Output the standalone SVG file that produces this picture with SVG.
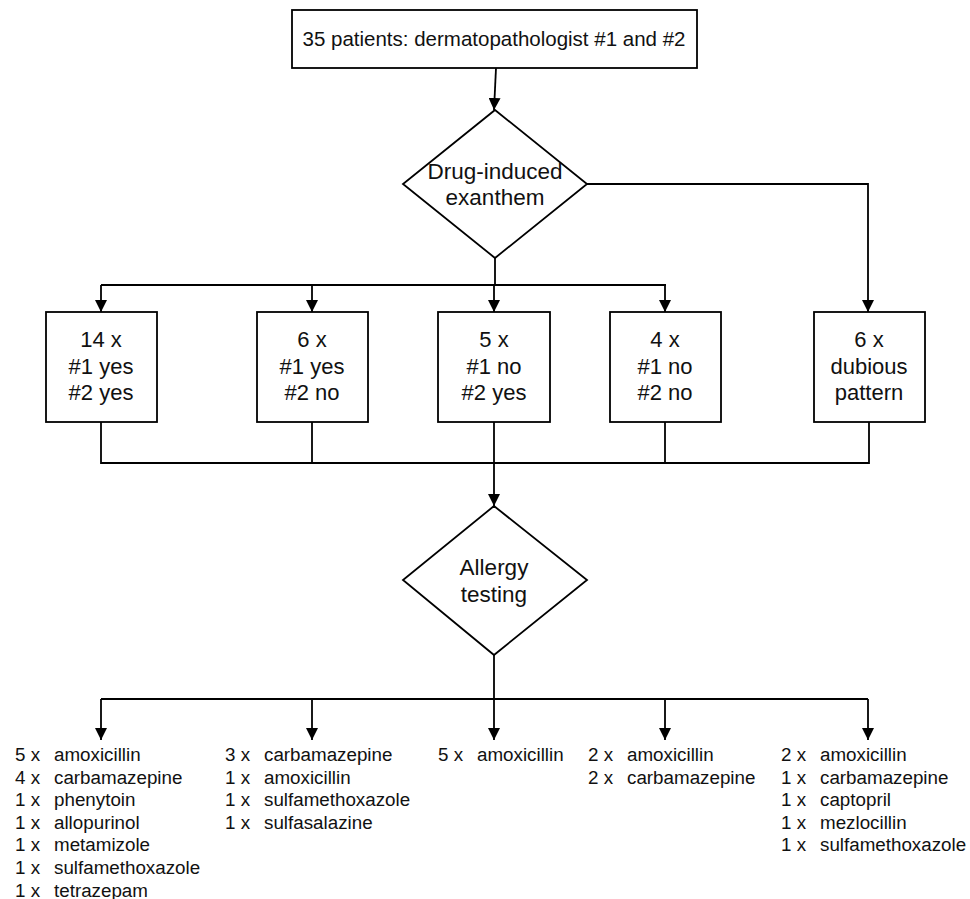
<svg xmlns="http://www.w3.org/2000/svg" width="970" height="899" viewBox="0 0 970 899">
<defs>
<marker id="ah" markerWidth="12" markerHeight="12" refX="12" refY="6" orient="auto" markerUnits="userSpaceOnUse">
<path d="M0,0 L12,6 L0,12 Z" fill="#000"/>
</marker>
<style>
.sh{fill:#fff;stroke:#000;stroke-width:1.8}
.ln{fill:none;stroke:#000;stroke-width:1.8}
.t{font-family:"Liberation Sans",Arial,sans-serif;fill:#111;text-anchor:middle}
.l{font-family:"Liberation Sans",Arial,sans-serif;fill:#111;font-size:18.8px}
</style>
</defs>
<rect width="970" height="899" fill="#fff"/>
<g id="connectors">
<path class="ln" d="M496,68 L494,110" marker-end="url(#ah)"/>
<path class="ln" d="M587,184 H868 V312" marker-end="url(#ah)"/>
<path class="ln" d="M495,258 V285 H101"/>
<path class="ln" d="M495,285 H666"/>
<path class="ln" d="M101,285 V312" marker-end="url(#ah)"/>
<path class="ln" d="M312,285 V312" marker-end="url(#ah)"/>
<path class="ln" d="M494,285 V312" marker-end="url(#ah)"/>
<path class="ln" d="M665,285 V312" marker-end="url(#ah)"/>
<path class="ln" d="M101,422 V463 H869 V422"/>
<path class="ln" d="M312,422 V463"/>
<path class="ln" d="M665,422 V463"/>
<path class="ln" d="M494,422 V506" marker-end="url(#ah)"/>
<path class="ln" d="M494,655 V699 H101"/>
<path class="ln" d="M494,699 H868"/>
<path class="ln" d="M101,699 V740" marker-end="url(#ah)"/>
<path class="ln" d="M312,699 V740" marker-end="url(#ah)"/>
<path class="ln" d="M494,699 V740" marker-end="url(#ah)"/>
<path class="ln" d="M665,699 V740" marker-end="url(#ah)"/>
<path class="ln" d="M868,699 V740" marker-end="url(#ah)"/>
</g>
<g id="start">
<rect class="sh" x="292" y="10" width="405" height="58"/>
<text class="t" x="494" y="46" font-size="20.5">35 patients: dermatopathologist #1 and #2</text>
</g>
<g id="decision1">
<polygon class="sh" points="495,110 587,184 495,258 403,184"/>
<text class="t" x="495" y="179" font-size="22.5">Drug-induced</text>
<text class="t" x="495" y="205" font-size="22.5">exanthem</text>
</g>
<g id="box1">
<rect class="sh" x="46" y="312" width="111" height="110"/>
<text class="t" x="101" y="347" font-size="22">14 x</text>
<text class="t" x="101" y="374" font-size="22">#1 yes</text>
<text class="t" x="101" y="400" font-size="22">#2 yes</text>
</g>
<g id="box2">
<rect class="sh" x="257" y="312" width="111" height="110"/>
<text class="t" x="312" y="347" font-size="22">6 x</text>
<text class="t" x="312" y="374" font-size="22">#1 yes</text>
<text class="t" x="312" y="400" font-size="22">#2 no</text>
</g>
<g id="box3">
<rect class="sh" x="438" y="312" width="112" height="110"/>
<text class="t" x="494" y="347" font-size="22">5 x</text>
<text class="t" x="494" y="374" font-size="22">#1 no</text>
<text class="t" x="494" y="400" font-size="22">#2 yes</text>
</g>
<g id="box4">
<rect class="sh" x="610" y="312" width="111" height="110"/>
<text class="t" x="665" y="347" font-size="22">4 x</text>
<text class="t" x="665" y="374" font-size="22">#1 no</text>
<text class="t" x="665" y="400" font-size="22">#2 no</text>
</g>
<g id="box5">
<rect class="sh" x="814" y="312" width="111" height="110"/>
<text class="t" x="869" y="347" font-size="22">6 x</text>
<text class="t" x="869" y="374" font-size="22">dubious</text>
<text class="t" x="869" y="400" font-size="22">pattern</text>
</g>
<g id="decision2">
<polygon class="sh" points="494,506 587,580 494,655 403,580"/>
<text class="t" x="494" y="575" font-size="22.5">Allergy</text>
<text class="t" x="494" y="602" font-size="22.5">testing</text>
</g>
<g id="list1">
<text class="l" x="15" y="761">5 x</text><text class="l" x="54" y="761">amoxicillin</text>
<text class="l" x="15" y="783.6">4 x</text><text class="l" x="54" y="783.6">carbamazepine</text>
<text class="l" x="15" y="806.2">1 x</text><text class="l" x="54" y="806.2">phenytoin</text>
<text class="l" x="15" y="828.8">1 x</text><text class="l" x="54" y="828.8">allopurinol</text>
<text class="l" x="15" y="851.4">1 x</text><text class="l" x="54" y="851.4">metamizole</text>
<text class="l" x="15" y="874">1 x</text><text class="l" x="54" y="874">sulfamethoxazole</text>
<text class="l" x="15" y="896.6">1 x</text><text class="l" x="54" y="896.6">tetrazepam</text>
</g>
<g id="list2">
<text class="l" x="225" y="761">3 x</text><text class="l" x="264" y="761">carbamazepine</text>
<text class="l" x="225" y="783.6">1 x</text><text class="l" x="264" y="783.6">amoxicillin</text>
<text class="l" x="225" y="806.2">1 x</text><text class="l" x="264" y="806.2">sulfamethoxazole</text>
<text class="l" x="225" y="828.8">1 x</text><text class="l" x="264" y="828.8">sulfasalazine</text>
</g>
<g id="list3">
<text class="l" x="438" y="761">5 x</text><text class="l" x="477" y="761">amoxicillin</text>
</g>
<g id="list4">
<text class="l" x="588" y="761">2 x</text><text class="l" x="627" y="761">amoxicillin</text>
<text class="l" x="588" y="783.6">2 x</text><text class="l" x="627" y="783.6">carbamazepine</text>
</g>
<g id="list5">
<text class="l" x="781" y="761">2 x</text><text class="l" x="820" y="761">amoxicillin</text>
<text class="l" x="781" y="783.6">1 x</text><text class="l" x="820" y="783.6">carbamazepine</text>
<text class="l" x="781" y="806.2">1 x</text><text class="l" x="820" y="806.2">captopril</text>
<text class="l" x="781" y="828.8">1 x</text><text class="l" x="820" y="828.8">mezlocillin</text>
<text class="l" x="781" y="851.4">1 x</text><text class="l" x="820" y="851.4">sulfamethoxazole</text>
</g>
</svg>
